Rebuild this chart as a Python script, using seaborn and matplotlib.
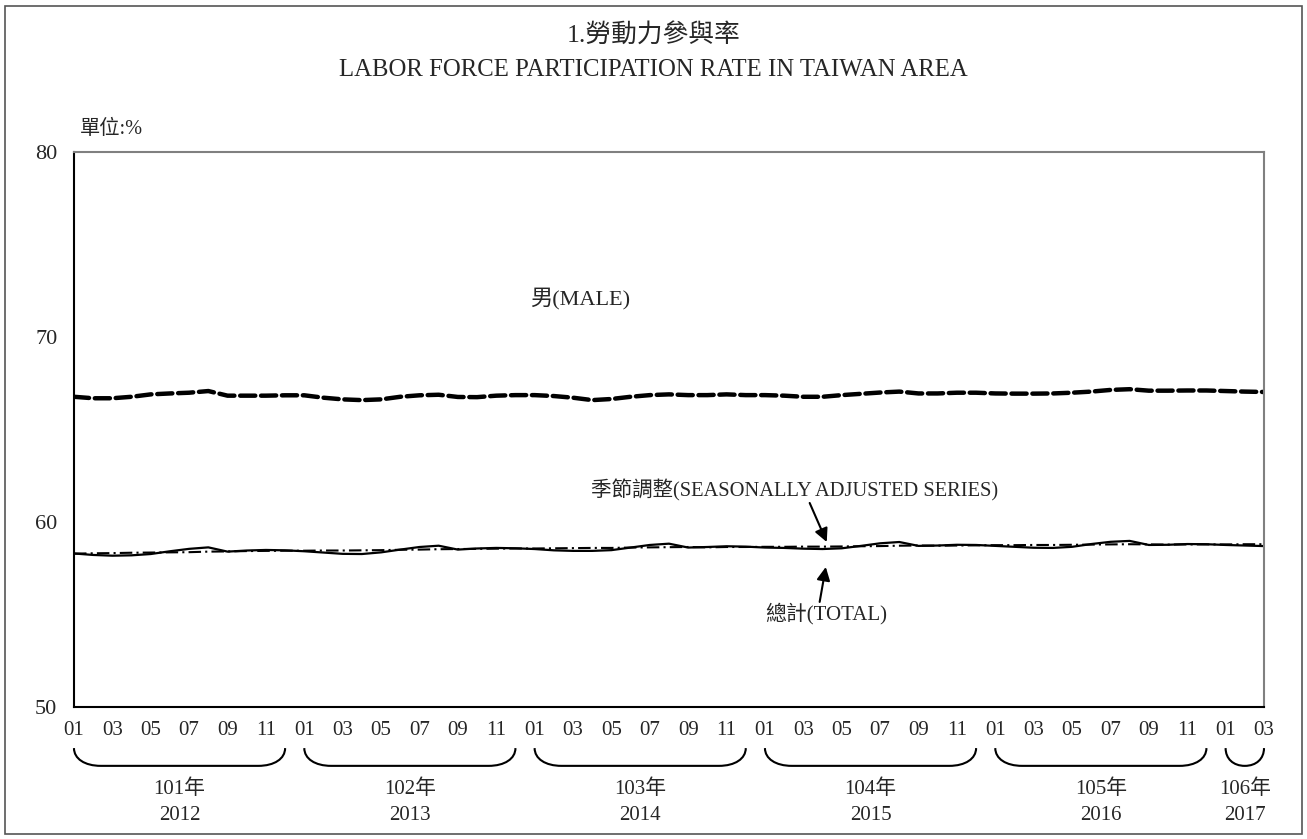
import numpy as np
import pandas as pd
import matplotlib
matplotlib.use('Agg')
import matplotlib.pyplot as plt
import matplotlib.transforms as mtransforms
from matplotlib.path import Path
from matplotlib.patches import PathPatch, Rectangle
import seaborn as sns

sns.set_style('white')
plt.rcParams['font.family'] = ['Liberation Serif', 'Noto Sans CJK TC']

# ---- data ----
months = pd.period_range('2012-01', '2017-03', freq='M')
month_labels = [f'{p.month:02d}' if p.month % 2 == 1 else '' for p in months]

male = [66.77, 66.69, 66.69, 66.77, 66.90, 66.95, 66.99, 67.08, 66.83, 66.83, 66.83, 66.85,
        66.85, 66.72, 66.63, 66.59, 66.63, 66.77, 66.85, 66.88, 66.76, 66.75, 66.83, 66.86,
        66.86, 66.81, 66.72, 66.59, 66.65, 66.77, 66.86, 66.90, 66.86, 66.86, 66.90, 66.86,
        66.86, 66.83, 66.77, 66.77, 66.86, 66.93, 67.00, 67.05, 66.95, 66.95, 66.99, 66.99,
        66.95, 66.94, 66.94, 66.95, 66.99, 67.05, 67.14, 67.18, 67.10, 67.10, 67.11, 67.11,
        67.08, 67.05, 67.03]

total = [58.30, 58.22, 58.18, 58.20, 58.27, 58.42, 58.55, 58.63, 58.40, 58.46, 58.49, 58.47,
         58.42, 58.35, 58.28, 58.27, 58.36, 58.51, 58.65, 58.72, 58.51, 58.57, 58.60, 58.58,
         58.54, 58.47, 58.44, 58.44, 58.48, 58.62, 58.76, 58.83, 58.62, 58.65, 58.69, 58.67,
         58.62, 58.60, 58.56, 58.54, 58.58, 58.71, 58.85, 58.92, 58.71, 58.73, 58.77, 58.76,
         58.71, 58.66, 58.61, 58.60, 58.66, 58.81, 58.93, 58.98, 58.76, 58.77, 58.81, 58.80,
         58.76, 58.73, 58.70]

seas_adj = [58.29, 58.31, 58.32, 58.34, 58.35, 58.36, 58.37, 58.40, 58.41, 58.43, 58.44, 58.45,
            58.45, 58.46, 58.46, 58.47, 58.48, 58.50, 58.51, 58.53, 58.54, 58.55, 58.56, 58.57,
            58.57, 58.58, 58.59, 58.60, 58.60, 58.62, 58.63, 58.64, 58.65, 58.63, 58.65, 58.65,
            58.66, 58.66, 58.67, 58.67, 58.68, 58.69, 58.70, 58.72, 58.73, 58.72, 58.73, 58.74,
            58.75, 58.75, 58.76, 58.76, 58.77, 58.78, 58.79, 58.80, 58.79, 58.78, 58.79, 58.79,
            58.79, 58.80, 58.80]

roc_years = ['101年', '102年', '103年', '104年', '105年', '106年']
ad_years = ['2012', '2013', '2014', '2015', '2016', '2017']

df = pd.DataFrame({'idx': np.arange(len(months)), 'male': male,
                   'total': total, 'sa': seas_adj})

fig = plt.figure(figsize=(13.07, 8.39), dpi=100)
ax = fig.add_axes([0.0566, 0.1573, 0.9105, 0.6615])

sns.lineplot(data=df, x='idx', y='male', ax=ax, color='black', lw=3.2)
ax.lines[-1].set_dashes((3.4, 1.3))
ax.lines[-1].set_dash_capstyle('round')
sns.lineplot(data=df, x='idx', y='sa', ax=ax, color='black', lw=1.5)
ax.lines[-1].set_dashes((6, 2, 1, 2))
sns.lineplot(data=df, x='idx', y='total', ax=ax, color='black', lw=1.6)

ax.set_xlim(0, len(months) - 1)
ax.set_ylim(50, 80)
ax.set_yticks([50, 60, 70, 80])
ax.set_xticks(df['idx'])
ax.set_xticklabels(month_labels)
ax.set_xlabel('')
ax.set_ylabel('')
ax.tick_params(axis='x', direction='in', length=4, width=1, pad=10, labelsize=15)
ax.tick_params(axis='y', direction='in', length=4, width=1, pad=12, labelsize=16)

for s in ['left', 'bottom']:
    ax.spines[s].set_color('black')
    ax.spines[s].set_linewidth(1.5)
for s in ['top', 'right']:
    ax.spines[s].set_color('#808080')
    ax.spines[s].set_linewidth(1.5)

# titles
fig.text(0.5, 0.958, '1.勞動力參與率', ha='center', va='center', fontsize=18.5)
fig.text(0.5, 0.9166, 'LABOR FORCE PARTICIPATION RATE IN TAIWAN AREA',
         ha='center', va='center', fontsize=17.8)
ax.text(0.005, 1.04, '單位:%', transform=ax.transAxes, ha='left', va='center', fontsize=14.6)

# series labels and arrows
ax.text(26.35, 72.1, '男(MALE)', ha='center', va='center', fontsize=16)
ax.text(37.55, 61.73, '季節調整(SEASONALLY ADJUSTED SERIES)', ha='center', va='center', fontsize=14.8)
ax.text(39.2, 55.03, '總計(TOTAL)', ha='center', va='center', fontsize=15)
arrow = dict(arrowstyle='-|>', color='black', lw=1.5, mutation_scale=20, shrinkA=0, shrinkB=0)
ax.annotate('', xy=(39.22, 58.92), xytext=(38.33, 61.03), arrowprops=arrow)
ax.annotate('', xy=(39.17, 57.57), xytext=(38.85, 55.68), arrowprops=arrow)

# year braces under the axis
trans = mtransforms.blended_transform_factory(ax.transData, ax.transAxes)
top, bot = -0.074, -0.106
year_of = np.array([p.year for p in months])
for k, yr in enumerate(sorted(set(year_of))):
    ids = np.where(year_of == yr)[0]
    x0, x1 = ids[0], ids[-1]
    r = min(1.4, (x1 - x0) / 2)
    verts = [(x0, top), (x0, top + (bot - top) * 0.6), (x0 + r * 0.4, bot), (x0 + r, bot),
             (x1 - r, bot),
             (x1 - r * 0.4, bot), (x1, top + (bot - top) * 0.6), (x1, top)]
    codes = [Path.MOVETO, Path.CURVE4, Path.CURVE4, Path.CURVE4,
             Path.LINETO, Path.CURVE4, Path.CURVE4, Path.CURVE4]
    ax.add_patch(PathPatch(Path(verts, codes), transform=trans, fill=False,
                           lw=1.5, edgecolor='black', clip_on=False))
    xc = (x0 + x1) / 2
    ax.text(xc, -0.148, roc_years[k], transform=trans, ha='center', va='center', fontsize=15)
    ax.text(xc, -0.195, ad_years[k], transform=trans, ha='center', va='center', fontsize=15)

# outer frame
fig.patches.append(Rectangle((0.004, 0.006), 0.992, 0.987, transform=fig.transFigure,
                             fill=False, edgecolor='#555555', lw=1.2))

fig.savefig('out.png', dpi=100)
